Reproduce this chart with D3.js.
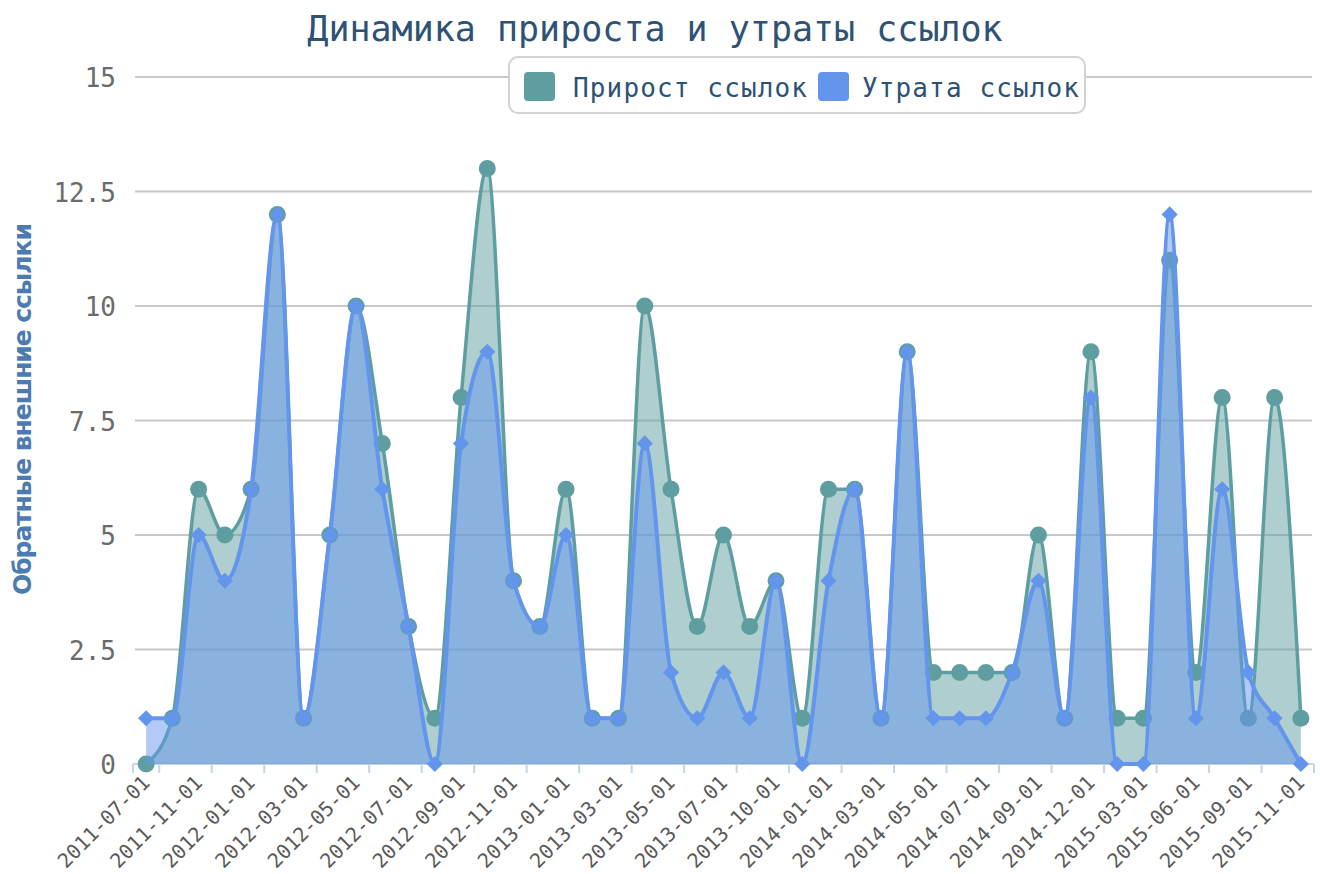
<!DOCTYPE html>
<html>
<head>
<meta charset="utf-8">
<script src="https://cdn.jsdelivr.net/npm/d3@7"></script>
<style>
  body { margin: 0; background: #fff; }
  svg text { font-family: 'DejaVu Sans Mono', monospace; }
</style>
</head>
<body>
<div id="chart"></div>
<script>
const width = 1320,
      height = 874;

const margin = {top: 77, right: 6, bottom: 110, left: 133};

const growthColor = '#5f9ea0';
const lossColor = '#6495ed';

// months shown on the x axis (only every second one gets a label)
const months = [
  '2011-07-01', '2011-10-01', '2011-11-01', '2011-12-01', '2012-01-01', '2012-02-01',
  '2012-03-01', '2012-04-01', '2012-05-01', '2012-06-01', '2012-07-01', '2012-08-01',
  '2012-09-01', '2012-10-01', '2012-11-01', '2012-12-01', '2013-01-01', '2013-02-01',
  '2013-03-01', '2013-04-01', '2013-05-01', '2013-06-01', '2013-07-01', '2013-09-01',
  '2013-10-01', '2013-12-01', '2014-01-01', '2014-02-01', '2014-03-01', '2014-04-01',
  '2014-05-01', '2014-06-01', '2014-07-01', '2014-08-01', '2014-09-01', '2014-11-01',
  '2014-12-01', '2015-02-01', '2015-03-01', '2015-05-01', '2015-06-01', '2015-08-01',
  '2015-09-01', '2015-10-01', '2015-11-01'
];

// Прирост ссылок
const growth = [0, 1, 6, 5, 6, 12, 1, 5, 10, 7, 3, 1, 8, 13, 4, 3, 6, 1, 1, 10, 6, 3, 5,
                3, 4, 1, 6, 6, 1, 9, 2, 2, 2, 2, 5, 1, 9, 1, 1, 11, 2, 8, 1, 8, 1];
// Утрата ссылок
const loss = [1, 1, 5, 4, 6, 12, 1, 5, 10, 6, 3, 0, 7, 9, 4, 3, 5, 1, 1, 7, 2, 1, 2,
              1, 4, 0, 4, 6, 1, 9, 1, 1, 1, 2, 4, 1, 8, 0, 0, 12, 1, 6, 2, 1, 0];

const yTicks = [0, 2.5, 5, 7.5, 10, 12.5, 15];

const series = [
  {name: 'Прирост ссылок', values: growth, color: growthColor, marker: 'circle'},
  {name: 'Утрата ссылок', values: loss, color: lossColor, marker: 'diamond'}
];

const svg = d3.select('#chart').append('svg')
    .attr('width', width)
    .attr('height', height);

const x = d3.scaleBand()
    .domain(months)
    .range([margin.left, width - margin.right])
    .padding(0);

const y = d3.scaleLinear()
    .domain([0, 15])
    .range([height - margin.bottom, margin.top]);

const cx = d => x(d) + x.bandwidth() / 2;

// horizontal grid + y labels
const yAxis = svg.append('g').attr('class', 'y-axis');
yAxis.selectAll('line.grid')
  .data(yTicks.filter(d => d > 0))
  .join('line')
    .attr('class', 'grid')
    .attr('x1', margin.left + 2)
    .attr('x2', width - margin.right - 2)
    .attr('y1', d => y(d))
    .attr('y2', d => y(d))
    .attr('stroke', '#c8c8c8')
    .attr('stroke-width', 2);

yAxis.selectAll('text')
  .data(yTicks)
  .join('text')
    .attr('x', 116)
    .attr('y', d => y(d) + 1)
    .attr('text-anchor', 'end')
    .attr('dominant-baseline', 'central')
    .attr('fill', '#6b6b6b')
    .style('font-size', '26px')
    .text(d => d);

// x axis: base line, ticks between every second month, rotated labels
const xAxis = svg.append('g').attr('class', 'x-axis');
const y0 = y(0);
xAxis.append('line')
    .attr('x1', x.range()[0])
    .attr('x2', x.range()[1])
    .attr('y1', y0)
    .attr('y2', y0)
    .attr('stroke', '#c5d6ea')
    .attr('stroke-width', 2);

const boundaries = [x.range()[0]].concat(
  months.filter((d, i) => i % 2 == 0).map(d => x(d) + x.bandwidth())
);
xAxis.selectAll('line.tick')
  .data(boundaries)
  .join('line')
    .attr('class', 'tick')
    .attr('x1', d => d)
    .attr('x2', d => d)
    .attr('y1', y0)
    .attr('y2', y0 + 9)
    .attr('stroke', '#c5d6ea')
    .attr('stroke-width', 2);

xAxis.selectAll('text')
  .data(months.filter((d, i) => i % 2 == 0))
  .join('text')
    .attr('transform', d => `translate(${cx(d) + 5},${y0 + 20}) rotate(-45)`)
    .attr('text-anchor', 'end')
    .attr('fill', '#5a5a5a')
    .style('font-size', '20px')
    .text(d => d);

// areas, lines and markers
const area = d3.area()
    .x((d, i) => cx(months[i]))
    .y0(y0)
    .y1(d => y(d))
    .curve(d3.curveMonotoneX);

const line = d3.line()
    .x((d, i) => cx(months[i]))
    .y(d => y(d))
    .curve(d3.curveMonotoneX);

const diamond = d3.symbol().type(d3.symbolSquare).size(130);

series.forEach(s => {
  const g = svg.append('g').attr('class', 'series');
  g.append('path')
      .attr('d', area(s.values))
      .attr('fill', s.color)
      .attr('fill-opacity', 0.5);
  g.append('path')
      .attr('d', line(s.values))
      .attr('fill', 'none')
      .attr('stroke', s.color)
      .attr('stroke-width', s.marker == 'circle' ? 3.5 : 4)
      .attr('stroke-linejoin', 'round');
  if (s.marker == 'circle') {
    g.selectAll('circle')
      .data(s.values)
      .join('circle')
        .attr('cx', (d, i) => cx(months[i]))
        .attr('cy', d => y(d))
        .attr('r', 8.5)
        .attr('fill', s.color);
  } else {
    g.selectAll('path.marker')
      .data(s.values)
      .join('path')
        .attr('class', 'marker')
        .attr('d', diamond)
        .attr('transform', (d, i) => `translate(${cx(months[i])},${y(d)}) rotate(45)`)
        .attr('fill', s.color);
  }
});

// title
svg.append('text')
    .attr('x', 655)
    .attr('y', 41)
    .attr('text-anchor', 'middle')
    .attr('fill', '#2e5275')
    .style('font-size', '35px')
    .text('Динамика прироста и утраты ссылок');

// y axis title
svg.append('text')
    .attr('transform', 'translate(31,409) rotate(-90)')
    .attr('text-anchor', 'middle')
    .attr('fill', '#4b7bb1')
    .attr('textLength', 372)
    .attr('lengthAdjust', 'spacing')
    .style('font-family', "'DejaVu Sans', sans-serif")
    .style('font-weight', 'bold')
    .style('font-size', '25px')
    .text('Обратные внешние ссылки');

// legend
const legend = svg.append('g').attr('class', 'legend');
legend.append('rect')
    .attr('x', 509)
    .attr('y', 57)
    .attr('width', 576)
    .attr('height', 56)
    .attr('rx', 9)
    .attr('fill', '#fff')
    .attr('stroke', '#d2d2d2')
    .attr('stroke-width', 2);

const legendItems = [
  {x: 524, textX: 573, len: 234},
  {x: 818, textX: 862, len: 217}
];
series.forEach((s, i) => {
  const it = legendItems[i];
  legend.append('rect')
      .attr('x', it.x)
      .attr('y', 72)
      .attr('width', 31)
      .attr('height', 29)
      .attr('rx', 4)
      .attr('fill', s.color);
  legend.append('text')
      .attr('x', it.textX)
      .attr('y', 97)
      .attr('fill', '#2e5275')
      .attr('textLength', it.len)
      .attr('lengthAdjust', 'spacing')
      .style('font-size', '26px')
      .text(s.name);
});
</script>
</body>
</html>
